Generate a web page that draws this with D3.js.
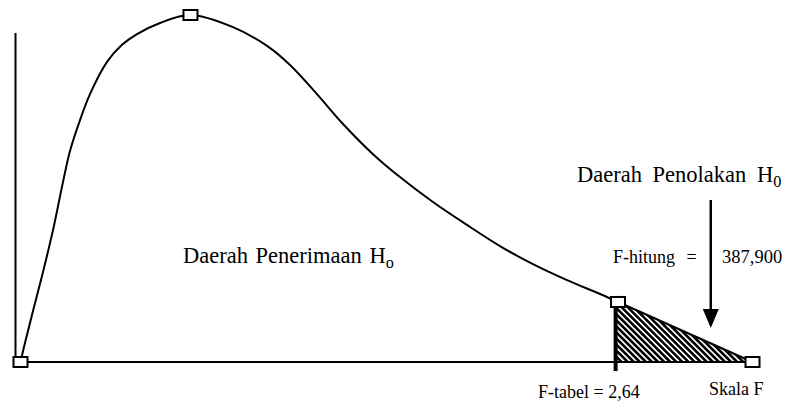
<!DOCTYPE html>
<html>
<head>
<meta charset="utf-8">
<script src="https://cdn.jsdelivr.net/npm/d3@7"></script>
<style>
	body { margin: 0; background: #fff; }
	svg { display: block; }
</style>
</head>
<body>
<svg id="chart"></svg>
<script>
// F distribution curve (F scale 0-100, density 0-100)
var fScale = [0, 0.61, 1.71, 3.07, 4.44, 5.81, 6.76, 8.13, 9.49, 11.82, 13.87, 15.92, 19.06, 23.22, 29.03, 33.68, 36.82, 40.5, 44.06, 48.16, 51.84, 56.35, 60.99, 65.5, 70.01, 74.66, 79.17, 81.63];
var density = [0, 5.5, 14.7, 25.9, 38, 51.9, 60.8, 69.7, 77.2, 86.5, 91.4, 94.5, 97.7, 100, 96.5, 91.1, 85.6, 77.2, 68.6, 59.9, 53.3, 46.1, 39.5, 33.4, 28.2, 23.6, 19.6, 17.3];
// tail of the curve (rejection region)
var tailF = [81.63, 100];
var tailDensity = [17.3, 0];
// marked points (boxes)
var markerF = [0, 23.22, 81.63, 100];
var markerDensity = [0, 100, 17.3, 0];
var fTabel = 81.3;
var fHitung = 94.3;

var labels = {
	terima: "Daerah Penerimaan H",
	terimaSub: "o",
	tolak: "Daerah Penolakan H",
	tolakSub: "0",
	hitung: "F-hitung =",
	hitungVal: "387,900",
	tabel: "F-tabel = 2,64",
	skala: "Skala F"
};

var width = 786, height = 403;
var svg = d3.select("#chart").attr("width", width).attr("height", height);

var x = d3.scaleLinear().domain([0, 100]).range([20.5, 752.5]);
var y = d3.scaleLinear().domain([0, 100]).range([362, 15]);

//hatch pattern
svg.append("defs").append("pattern")
	.attr("id", "hatch").attr("patternUnits", "userSpaceOnUse")
	.attr("width", 4.3).attr("height", 4.3)
	.attr("patternTransform", "rotate(45)")
	.append("rect").attr("x", 0).attr("y", 0).attr("width", 4.3).attr("height", 2.6).attr("fill", "#000");

//vertical axis
svg.append("line")
	.attr("x1", x(0) - 5).attr("x2", x(0) - 5)
	.attr("y1", 33).attr("y2", y(0))
	.attr("stroke", "#000").attr("stroke-width", 2);

//baseline
svg.append("line")
	.attr("x1", x(0)).attr("x2", x(100))
	.attr("y1", y(0)).attr("y2", y(0))
	.attr("stroke", "#000").attr("stroke-width", 2);

//rejection region
var tailTop = d3.scaleLinear().domain(tailF).range(tailDensity);
var tri = [[fTabel, 0], [fTabel, tailTop(fTabel)], [tailF[1], 0]];
svg.append("path")
	.attr("d", d3.line().x(function(d) { return x(d[0]); }).y(function(d) { return y(d[1]); })(tri) + "Z")
	.attr("fill", "url(#hatch)").attr("stroke", "none");

//curve
var pts = fScale.map(function(f, i) { return [f, density[i]]; });
svg.append("path")
	.attr("d", d3.line().curve(d3.curveCatmullRom.alpha(0.5))
		.x(function(d) { return x(d[0]); }).y(function(d) { return y(d[1]); })(pts))
	.attr("fill", "none").attr("stroke", "#000").attr("stroke-width", 2);

svg.append("path")
	.attr("d", d3.line().x(function(d) { return x(d); }).y(function(d, i) { return y(tailDensity[i]); })(tailF))
	.attr("fill", "none").attr("stroke", "#000").attr("stroke-width", 2);

//F-tabel line
svg.append("line")
	.attr("x1", x(fTabel)).attr("x2", x(fTabel))
	.attr("y1", y(tailTop(fTabel))).attr("y2", y(0) + 9)
	.attr("stroke", "#000").attr("stroke-width", 4);

//marker boxes
svg.append("g").selectAll("rect").data(markerF).enter().append("rect")
	.attr("x", function(d) { return x(d) - 7; })
	.attr("y", function(d, i) { return y(markerDensity[i]) - 5; })
	.attr("width", 14).attr("height", 10)
	.attr("fill", "#fff").attr("stroke", "#000").attr("stroke-width", 2);

//F-hitung arrow
svg.append("line")
	.attr("x1", x(fHitung)).attr("x2", x(fHitung))
	.attr("y1", 200).attr("y2", 312)
	.attr("stroke", "#000").attr("stroke-width", 2.5);
svg.append("path")
	.attr("d", "M" + (x(fHitung) - 8) + ",309L" + (x(fHitung) + 8) + ",309L" + x(fHitung) + ",328Z")
	.attr("fill", "#000");

//texts
function addText(tx, ty, str, sub, size, ws) {
	var t = svg.append("text").attr("x", tx).attr("y", ty)
		.style("font-family", "Liberation Serif").style("font-size", size + "px")
		.style("word-spacing", (ws || 0) + "px")
		.text(str);
	if (sub) t.append("tspan").attr("dy", size * 0.2).style("font-size", (size * 0.72) + "px").text(sub);
	return t;
}
addText(183, 263, labels.terima, labels.terimaSub, 22.5, 2);
addText(577, 182, labels.tolak, labels.tolakSub, 22.5, 5);
addText(613, 263, labels.hitung, null, 18, 7);
addText(722, 263, labels.hitungVal, null, 18.5);
addText(538, 398, labels.tabel, null, 18);
addText(709, 395, labels.skala, null, 18);
</script>
</body>
</html>
